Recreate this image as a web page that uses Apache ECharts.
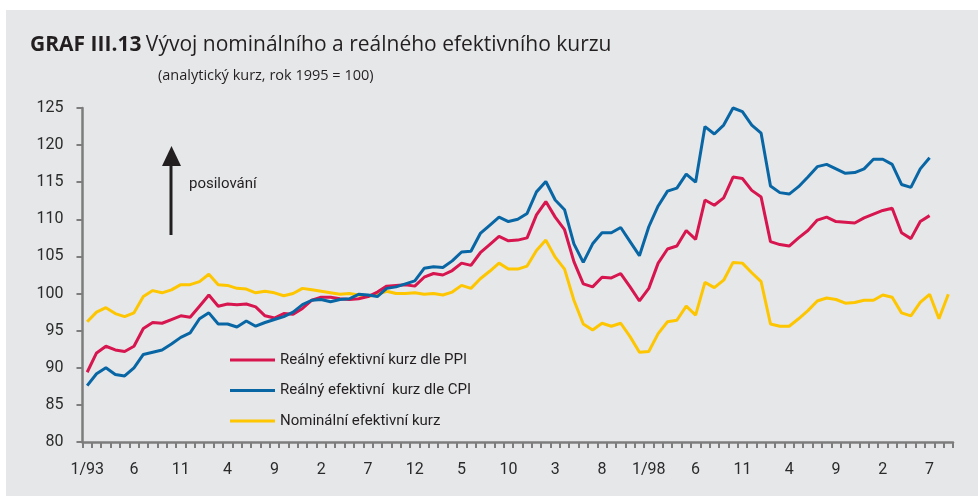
<!DOCTYPE html>
<html>
<head>
<meta charset="utf-8">
<script src="https://cdn.jsdelivr.net/npm/echarts@6/dist/echarts.min.js"></script>
<style>
  html, body { margin: 0; padding: 0; background: #fff; }
  #chart { width: 978px; height: 496px; }
</style>
</head>
<body>
<div id="chart"></div>
<script>
// mesice 1/93 .. 9/2000, popisky jen u ledna s rokem
var months = [];
for (var y = 93; y <= 100; y++) {
  for (var m = 1; m <= 12; m++) {
    if (y === 100 && m > 9) break;
    months.push(m === 1 ? '1/' + String(y % 100).padStart(2, '0') : String(m));
  }
}

var seriesNames = ['Reálný efektivní kurz dle PPI', 'Reálný efektivní  kurz dle CPI', 'Nominální efektivní kurz'];

// realny kurz dle PPI
var ppi = [
  89.4, 92.0, 92.9, 92.4, 92.2, 92.9, 95.3, 96.1, 96.0, 96.5, 97.0, 96.8,
  98.3, 99.8, 98.3, 98.6, 98.5, 98.6, 98.2, 97.0, 96.7, 97.3, 97.2, 98.0,
  99.1, 99.5, 99.5, 99.3, 99.2, 99.3, 99.6, 100.2, 101.0, 101.1, 101.2, 101.0,
  102.2, 102.7, 102.5, 103.1, 104.1, 103.8, 105.5, 106.6, 107.7, 107.1, 107.2, 107.5,
  110.6, 112.4, 110.3, 108.6, 104.3, 101.3, 100.9, 102.2, 102.1, 102.7, 100.9, 99.0,
  100.7, 104.1, 106.0, 106.4, 108.5, 107.3, 112.6, 111.9, 112.9, 115.7, 115.5, 113.9,
  113.0, 107.0, 106.6, 106.4, 107.5, 108.5, 109.9, 110.3, 109.7, 109.6, 109.5, 110.2,
  110.7, 111.2, 111.5, 108.2, 107.4, 109.7, 110.5
];

// realny kurz dle CPI
var cpi = [
  87.6, 89.2, 90.0, 89.1, 88.9, 90.0, 91.8, 92.1, 92.4, 93.2, 94.1, 94.7,
  96.6, 97.4, 95.9, 95.9, 95.5, 96.3, 95.6, 96.1, 96.5, 96.9, 97.5, 98.5,
  99.1, 99.2, 98.9, 99.2, 99.3, 99.9, 99.8, 99.6, 100.7, 100.9, 101.3, 101.7,
  103.4, 103.6, 103.5, 104.4, 105.6, 105.7, 108.1, 109.2, 110.3, 109.7, 110.0, 110.8,
  113.7, 115.1, 112.6, 111.3, 106.7, 104.2, 106.7, 108.2, 108.2, 108.9, 107.0, 105.1,
  109.0, 111.8, 113.8, 114.2, 116.1, 115.0, 122.5, 121.5, 122.7, 125.0, 124.5, 122.7,
  121.6, 114.5, 113.6, 113.4, 114.4, 115.7, 117.1, 117.4, 116.8, 116.2, 116.3, 116.8,
  118.1, 118.1, 117.4, 114.7, 114.3, 116.8, 118.3
];

// nominalni efektivni kurz
var nominal = [
  96.2, 97.5, 98.1, 97.3, 96.9, 97.4, 99.6, 100.4, 100.1, 100.5, 101.2, 101.2,
  101.6, 102.6, 101.2, 101.1, 100.7, 100.6, 100.1, 100.3, 100.1, 99.7, 100.0, 100.7,
  100.5, 100.3, 100.1, 99.9, 100.0, 99.8, 99.6, 99.9, 100.3, 100.0, 100.0, 100.1,
  99.9, 100.0, 99.8, 100.2, 101.1, 100.7, 102.0, 103.0, 104.1, 103.3, 103.3, 103.7,
  105.8, 107.2, 104.9, 103.3, 99.1, 95.9, 95.1, 96.0, 95.6, 96.0, 94.2, 92.1,
  92.2, 94.6, 96.2, 96.4, 98.3, 97.1, 101.5, 100.8, 101.8, 104.2, 104.1, 102.8,
  101.6, 95.9, 95.6, 95.6, 96.6, 97.7, 99.0, 99.4, 99.2, 98.7, 98.8, 99.1,
  99.1, 99.8, 99.5, 97.4, 97.0, 98.8, 99.9, 96.6, 99.9
];

var colors = ['#d7154f', '#0866a5', '#fdc600'];
var font = 'Roboto, "Noto Sans", sans-serif';
var titleFont = '"Open Sans", Roboto, sans-serif';

function Graf(){
  var chart = echarts.init(document.getElementById('chart'));
  var option = {
    backgroundColor: '#e6e7e9',
    animation: false,
    color: colors,
    textStyle: { fontFamily: font },
    title: [{
      left: 25,
      top: 30,
      padding: 5,
      text: '{b|GRAF III.13} {n|Vývoj nominálního a reálného efektivního kurzu}',
      textStyle: {
        rich: {
          b: { fontSize: 21, fontWeight: 'bold', color: '#231f20', fontFamily: titleFont },
          n: { fontSize: 21, fontWeight: 'normal', color: '#231f20', fontFamily: titleFont }
        }
      }
    }, {
      left: 153,
      top: 63,
      padding: 5,
      text: '(analytický kurz, rok 1995 = 100)',
      textStyle: { fontSize: 14.5, fontWeight: 'normal', color: '#231f20', fontFamily: titleFont }
    }],
    legend: {
      orient: 'vertical',
      left: 225,
      top: 346,
      itemWidth: 45,
      itemHeight: 3,
      itemGap: 12.5,
      icon: 'rect',
      data: seriesNames,
      textStyle: { fontSize: 15, color: '#231f20', lineHeight: 18, fontFamily: font }
    },
    grid: {
      left: 82.5,
      right: 25,
      top: 108,
      bottom: 54
    },
    xAxis: {
      type: 'category',
      data: months,
      boundaryGap: true,
      axisLine: { lineStyle: { color: '#7d7d7d', width: 2.5 } },
      axisTick: { show: true, interval: 0, length: 6, lineStyle: { color: '#7d7d7d', width: 2 } },
      axisLabel: { interval: 4, margin: 20, fontSize: 16, color: '#2b2b2b' }
    },
    yAxis: {
      type: 'value',
      min: 80,
      max: 125,
      interval: 5,
      splitLine: { show: false },
      axisLine: { show: true, lineStyle: { color: '#7d7d7d', width: 2.5 } },
      axisTick: { show: true, length: 6, lineStyle: { color: '#7d7d7d', width: 2 } },
      axisLabel: { margin: 19, fontSize: 16, color: '#2b2b2b' }
    },
    graphic: [
      { type: 'rect', shape: { x: 0, y: 0, width: 978, height: 10 }, style: { fill: '#ffffff' } },
      { type: 'rect', shape: { x: 0, y: 0, width: 6, height: 496 }, style: { fill: '#ffffff' } },
      { type: 'line', shape: { x1: 171, y1: 235, x2: 171, y2: 163 }, style: { stroke: '#231f20', lineWidth: 3 } },
      { type: 'polygon', shape: { points: [[171.5, 146], [162, 166], [181, 166]] }, style: { fill: '#231f20' } },
      { type: 'text', left: 189, top: 177, style: { text: 'posilování', fontSize: 15, fill: '#231f20', fontFamily: font } }
    ],
    series: [
      { name: seriesNames[0], type: 'line', data: ppi, showSymbol: false, clip: false, lineStyle: { width: 3 }, z: 3 },
      { name: seriesNames[1], type: 'line', data: cpi, showSymbol: false, clip: false, lineStyle: { width: 3 }, z: 4 },
      { name: seriesNames[2], type: 'line', data: nominal, showSymbol: false, clip: false, lineStyle: { width: 3 }, z: 2 }
    ]
  };
  chart.setOption(option);
}

Graf();
</script>
</body>
</html>
